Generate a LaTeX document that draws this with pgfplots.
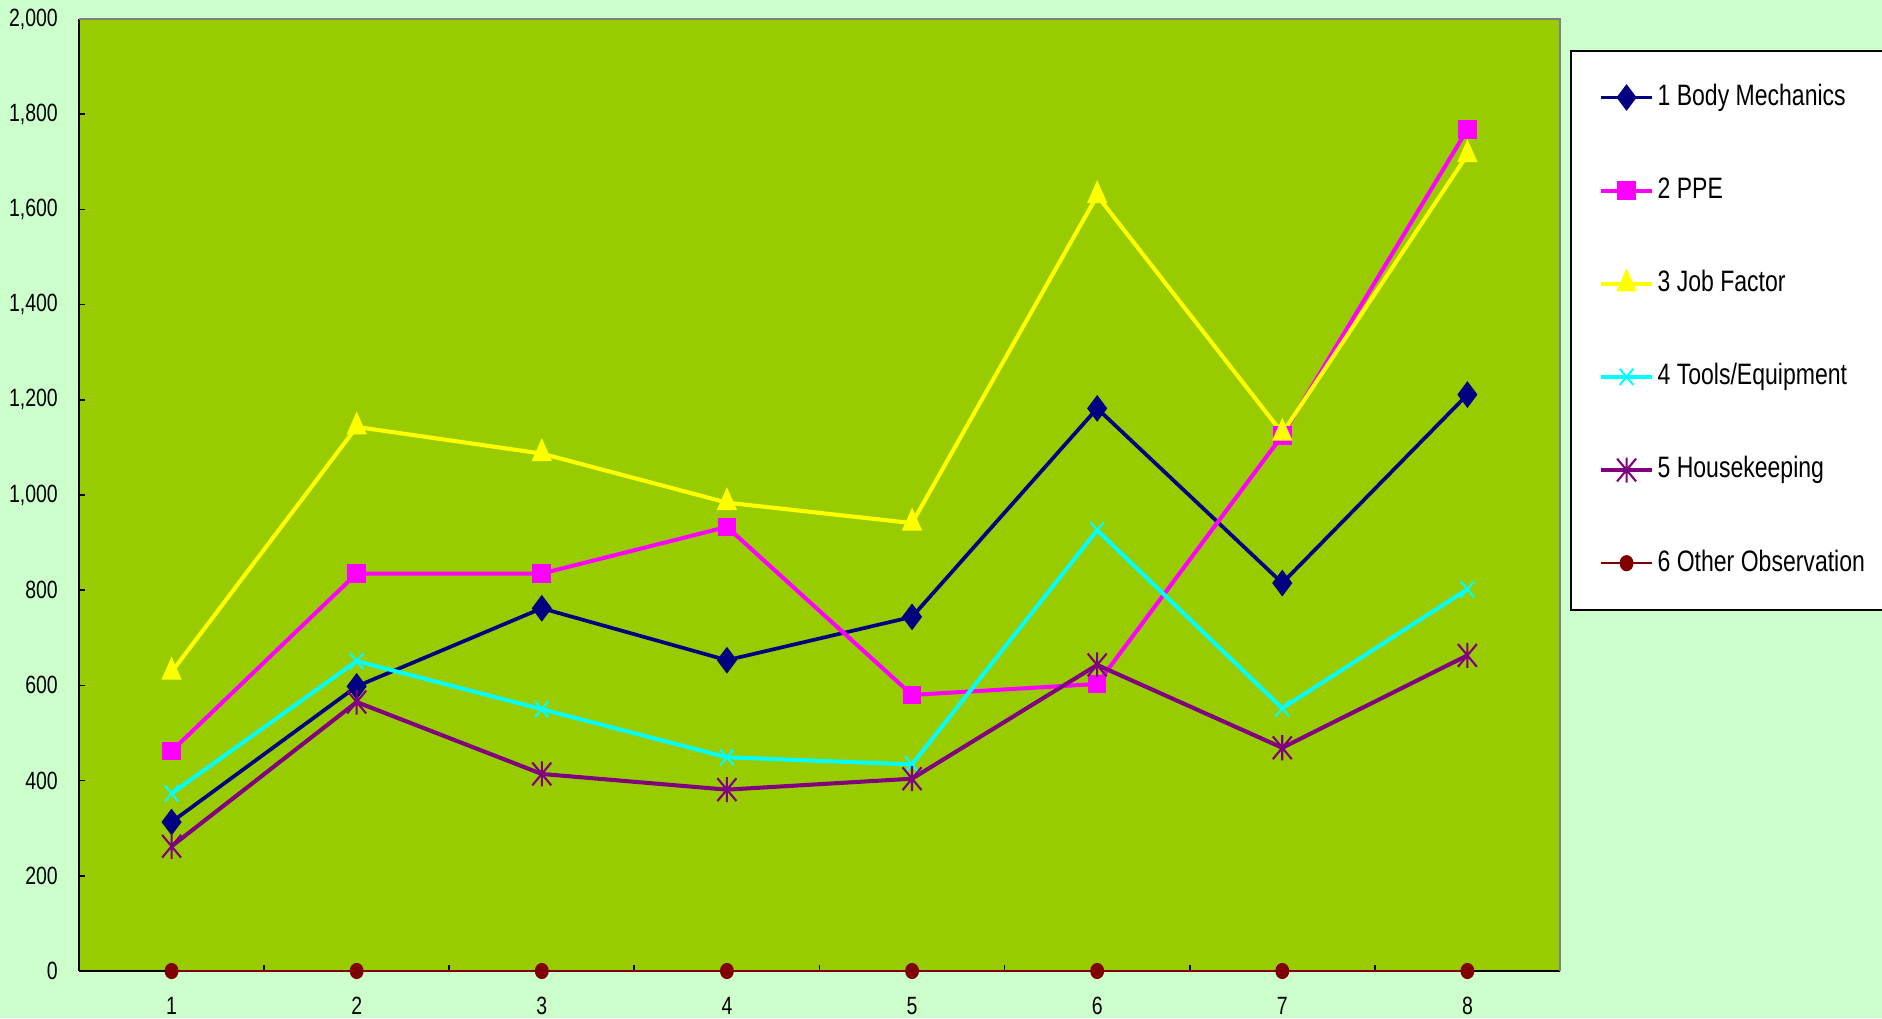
\documentclass[border=0pt]{standalone}
\usepackage{fontspec}
\setmainfont{Liberation Sans}[FakeStretch=0.78]
\usepackage{pgfplots}
\pgfplotsset{compat=1.18}
\definecolor{pagebg}{HTML}{CCFFCC}
\definecolor{plotbg}{HTML}{99CC00}
\definecolor{cBody}{HTML}{000080}
\definecolor{cPPE}{HTML}{FF00FF}
\definecolor{cJob}{HTML}{FFFF00}
\definecolor{cTools}{HTML}{00FFFF}
\definecolor{cHouse}{HTML}{800080}
\definecolor{cOther}{HTML}{800000}
\pgfdeclareplotmark{xstar}{%
 \pgfpathmoveto{\pgfqpoint{-\pgfplotmarksize}{-\pgfplotmarksize}}\pgfpathlineto{\pgfqpoint{\pgfplotmarksize}{\pgfplotmarksize}}%
 \pgfpathmoveto{\pgfqpoint{-\pgfplotmarksize}{\pgfplotmarksize}}\pgfpathlineto{\pgfqpoint{\pgfplotmarksize}{-\pgfplotmarksize}}%
 \pgfpathmoveto{\pgfqpoint{0pt}{-1.1\pgfplotmarksize}}\pgfpathlineto{\pgfqpoint{0pt}{1.1\pgfplotmarksize}}%
 \pgfusepathqstroke}
\begin{document}
\begin{tikzpicture}
\path[use as bounding box, fill=pagebg] (0,0) rectangle (18.82cm,10.18cm);
\begin{axis}[
  at={(0.79cm,0.47cm)}, anchor=south west,
  scale only axis, width=14.81cm, height=9.52cm,
  xmin=0.5, xmax=8.5, ymin=0, ymax=2000,
  xtick={1,...,8}, minor xtick={1.5,2.5,...,7.5},
  major x tick style={draw=none},
  ytick={0,200,...,2000},
  tick align=inside, major tick length=0.06cm, minor tick length=0.06cm,
  tick style={black, line width=0.5pt},
  axis x line*=bottom, axis y line*=left,
  axis line style={black, line width=0.6pt, -},
  axis background/.style={fill=plotbg},
  /pgf/number format/assume math mode=true,
  /pgf/number format/1000 sep={,},
  scaled y ticks=false,
  ticklabel style={font=\fontsize{7.1}{8.5}\selectfont},
  xticklabel style={yshift=-4pt},
  yticklabel style={xshift=-2.5pt},
  clip=false,
  after end axis/.code={\draw[gray, line width=0.7pt] (rel axis cs:0,1) -- (rel axis cs:1,1) -- (rel axis cs:1,0);},
  legend cell align=left,
  legend style={at={(1.0068,0.9674)}, anchor=north west, draw=black, fill=white,
    line width=0.5pt, font=\fontsize{8.4}{10}\selectfont,
    inner xsep=8pt, inner ysep=8pt, row sep=16pt,
    nodes={inner sep=1pt, text height=6.5pt, text depth=2pt}},
  legend image code/.code={\draw[mark repeat=2, mark phase=2, #1] plot coordinates {(0cm,0cm) (0.255cm,0cm) (0.51cm,0cm)};},
]
\addplot[cBody, line width=1.05pt, mark=diamond*, mark size=3.4pt, mark options={solid, fill=cBody, line width=0.5pt}]
  coordinates {(1,313) (2,598) (3,762) (4,653) (5,744) (6,1182) (7,815) (8,1211)};
\addlegendentry{1 Body Mechanics}
\addplot[cPPE, line width=1.15pt, mark=square*, mark size=2.4pt, mark options={solid, fill=cPPE, line width=0.5pt}]
  coordinates {(1,462) (2,835) (3,835) (4,933) (5,580) (6,603) (7,1125) (8,1768)};
\addlegendentry{2 PPE}
\addplot[cJob, line width=1.15pt, mark=triangle*, mark size=2.9pt, mark options={solid, fill=cJob, yscale=1.3, line width=0.5pt}]
  coordinates {(1,628) (2,1143) (3,1087) (4,984) (5,941) (6,1629) (7,1130) (8,1715)};
\addlegendentry{3 Job Factor}
\addplot[cTools, line width=1.15pt, mark=x, mark size=2.7pt, mark options={solid, line width=0.6pt, yscale=1.2}]
  coordinates {(1,373) (2,651) (3,550) (4,449) (5,434) (6,926) (7,552) (8,802)};
\addlegendentry{4 Tools/Equipment}
\addplot[cHouse, line width=1.15pt, mark=xstar, mark size=2.7pt, mark options={solid, line width=0.6pt, yscale=1.2}]
  coordinates {(1,262) (2,565) (3,414) (4,381) (5,404) (6,643) (7,469) (8,663)};
\addlegendentry{5 Housekeeping}
\addplot[cOther, line width=0.75pt, mark=*, mark size=1.6pt, mark options={solid, fill=cOther, yscale=1.2}]
  coordinates {(1,0) (2,0) (3,0) (4,0) (5,0) (6,0) (7,0) (8,0)};
\addlegendentry{6 Other Observation}
\end{axis}
\end{tikzpicture}
\end{document}
